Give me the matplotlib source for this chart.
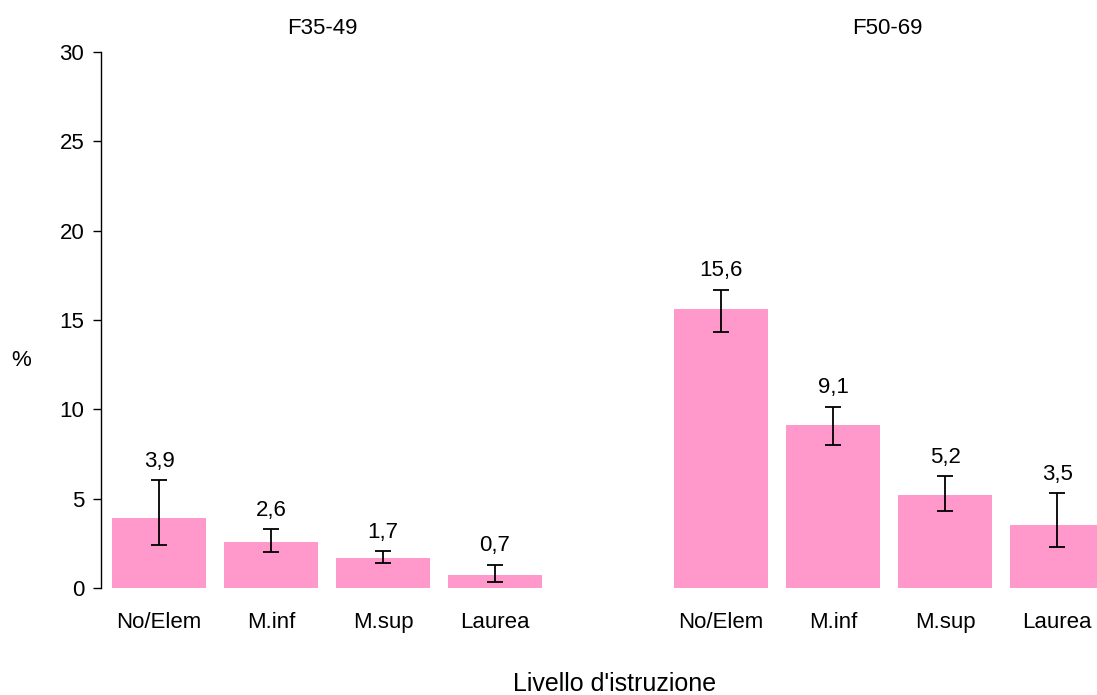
import matplotlib.pyplot as plt
import numpy as np

plt.rcParams['font.family'] = ['Liberation Sans', 'DejaVu Sans']

groups = ["F35-49", "F50-69"]
categories = ["No/Elem", "M.inf", "M.sup", "Laurea"]
values_f35 = [3.9, 2.6, 1.7, 0.7]
low_f35 = [2.4, 2.0, 1.4, 0.35]
high_f35 = [6.05, 3.3, 2.05, 1.3]
values_f50 = [15.6, 9.1, 5.2, 3.5]
low_f50 = [14.35, 8.0, 4.33, 2.3]
high_f50 = [16.7, 10.15, 6.27, 5.3]

values = values_f35 + values_f50
low = low_f35 + low_f50
high = high_f35 + high_f50
labels = categories + categories
x = np.array([0, 1, 2, 3, 5, 6, 7, 8], dtype=float) + np.array([0]*4 + [0.02]*4)

fig = plt.figure(figsize=(10.97, 6.95), dpi=100)
ax = fig.add_axes([101/1097, 1 - 588/695, (1097 - 101)/1097, (588 - 52)/695])

yerr = [np.array(values) - np.array(low), np.array(high) - np.array(values)]
ax.bar(x, values, width=0.84, color='#FF99CC')
ax.errorbar(x, values, yerr=yerr, fmt='none', ecolor='black', elinewidth=1.3,
            capsize=6, capthick=1.3)

for xi, v, h in zip(x, values, high):
    ax.annotate(f"{v:.1f}".replace('.', ','), (xi, h), xytext=(0, 6),
                textcoords='offset points', ha='center', va='bottom', fontsize=16)

ax.set_ylim(0, 30)
ax.set_xlim(-0.518, 8.375)
ax.set_yticks([0, 5, 10, 15, 20, 25, 30])
ax.set_xticks(x)
ax.set_xticklabels(labels)
ax.tick_params(axis='y', labelsize=16, length=6, width=1, direction='out', pad=6)
ax.tick_params(axis='x', labelsize=16, length=0, pad=17)
for s in ['top', 'right', 'bottom']:
    ax.spines[s].set_visible(False)
ax.spines['left'].set_linewidth(1)

ax.text(1.46, 31.3, groups[0], ha='center', va='center', fontsize=16)
ax.text(6.5, 31.3, groups[1], ha='center', va='center', fontsize=16)

fig.text(21/1097, 1 - 360/695, "%", ha='center', va='center', fontsize=16)
fig.text(615/1097, 1 - 684/695, "Livello d'istruzione", ha='center', va='center', fontsize=18)

fig.savefig("out.png", dpi=100)
